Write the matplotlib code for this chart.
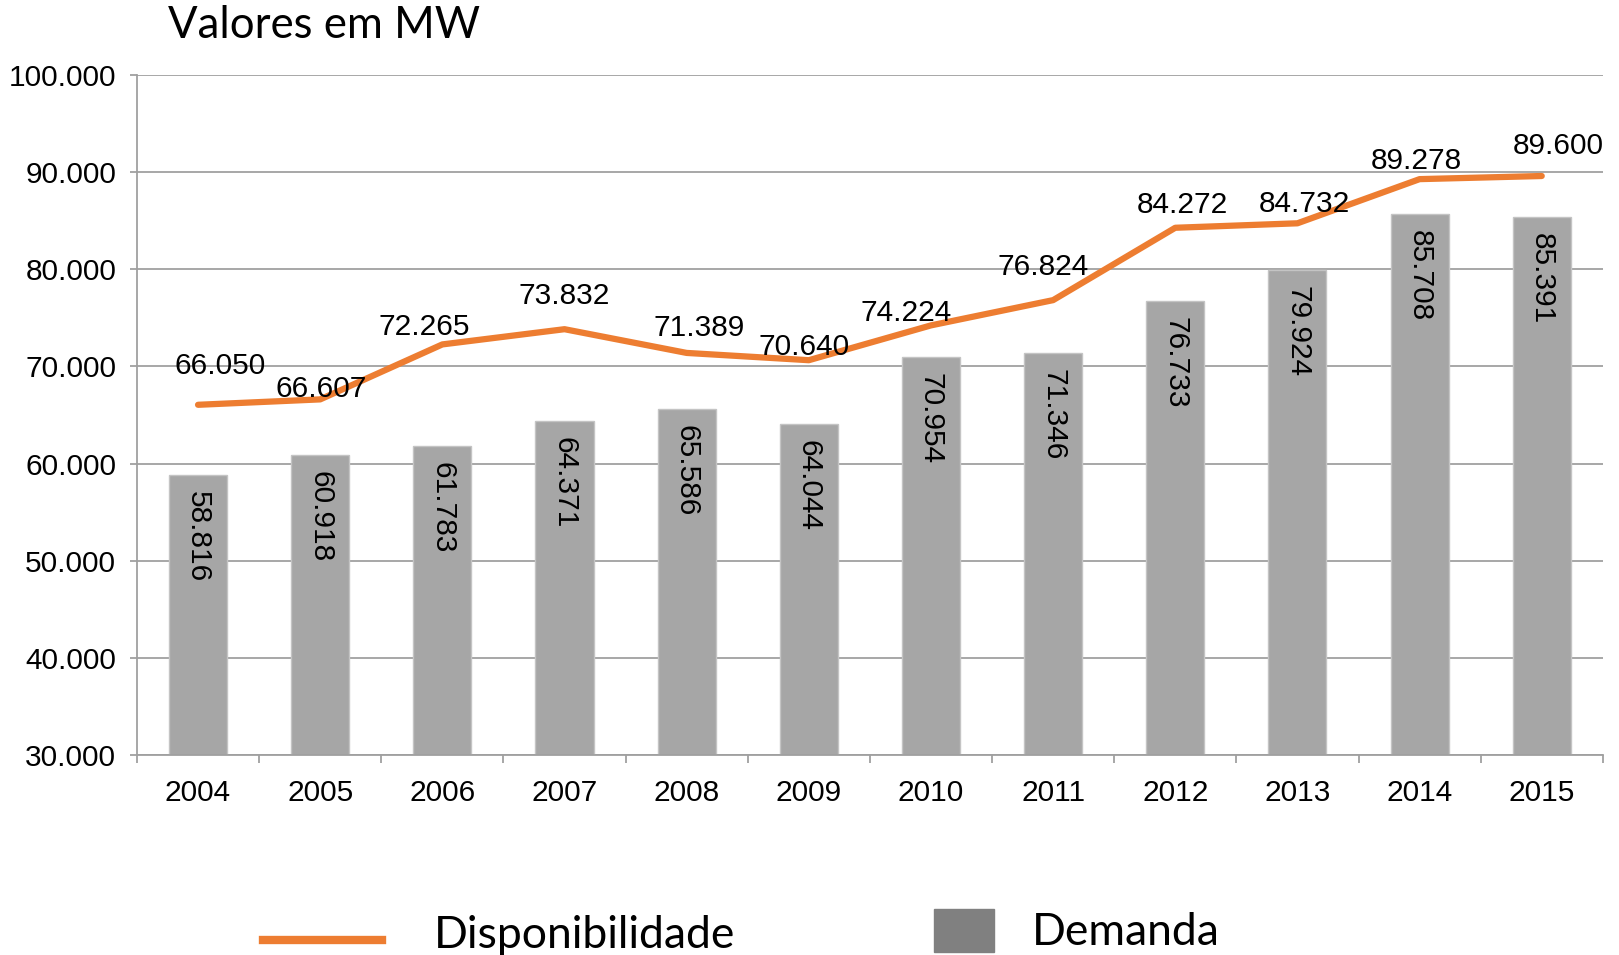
import numpy as np
import matplotlib
matplotlib.use('Agg')
import matplotlib.pyplot as plt
from matplotlib.lines import Line2D
from matplotlib.patches import Rectangle

years = ['2004', '2005', '2006', '2007', '2008', '2009', '2010', '2011', '2012', '2013', '2014', '2015']
disponibilidade = [66050, 66607, 72265, 73832, 71389, 70640, 74224, 76824, 84272, 84732, 89278, 89600]
demanda = [58816, 60918, 61783, 64371, 65586, 64044, 70954, 71346, 76733, 79924, 85708, 85391]

# hand-tuned label nudges (pixels) to mimic the original placement
line_lbl_dx = [22, 1, -18, 0, 12, -5, -25, -10, 7, 7, -3, 17]
line_lbl_dy = [39, 10, 17, 33, 25, 13, 12, 33, 23, 19, 18, 30]

def fmt(v):
    return '{:,}'.format(v).replace(',', '.')

plt.rcParams['font.family'] = ['Liberation Sans', 'DejaVu Sans']
fs = 21.5
big = ['Lato', 'DejaVu Sans']

fig = plt.figure(figsize=(16.19, 9.55), dpi=100)
ax = fig.add_axes([0.0846, 0.2094, 0.9054, 0.7121])

x = np.arange(len(years))
ax.bar(x, demanda, width=0.475, color='#a6a6a6', edgecolor='#c4c4c4', linewidth=1, zorder=2)
ax.plot(x, disponibilidade, color='#ed7d31', linewidth=4.5, solid_capstyle='round', zorder=3)

for i in range(len(years)):
    ax.annotate(fmt(demanda[i]), (x[i], demanda[i]), xytext=(0, -16), textcoords='offset pixels',
                rotation=270, ha='center', va='top', fontsize=fs, zorder=4)
    ax.annotate(fmt(disponibilidade[i]), (x[i], disponibilidade[i]),
                xytext=(line_lbl_dx[i], line_lbl_dy[i]), textcoords='offset pixels',
                ha='center', va='center', fontsize=fs, zorder=4)

ax.set_xlim(-0.5, len(years) - 0.5)
ax.set_ylim(30000, 100000)
ax.set_yticks(np.arange(30000, 100001, 10000))
ax.set_yticklabels([fmt(v) for v in range(30000, 100001, 10000)])
ax.set_xticks(x)
ax.set_xticklabels(years)
ax.set_xticks(np.arange(-0.5, len(years)), minor=True)

ax.grid(axis='y', color='#a0a0a0', linewidth=1.3, zorder=0)
for s in ['top', 'right']:
    ax.spines[s].set_visible(False)
for s in ['left', 'bottom']:
    ax.spines[s].set_color('#a0a0a0')
    ax.spines[s].set_linewidth(1.3)

ax.tick_params(axis='x', which='major', length=0, pad=17, labelsize=fs)
ax.tick_params(axis='x', which='minor', length=6, width=1.3, color='#a0a0a0')
ax.tick_params(axis='y', length=5, width=1.3, color='#a0a0a0', pad=10, labelsize=fs)

fig.text(0.1038, 0.973, 'Valores em MW', fontsize=31.5, family=big, va='center', ha='left')

# legend drawn by hand
fig.add_artist(Line2D([263 / 1619, 382 / 1619], [1 - 940 / 955, 1 - 940 / 955],
                      color='#ed7d31', linewidth=6, transform=fig.transFigure))
fig.text(434 / 1619, 1 - 935 / 955, 'Disponibilidade', fontsize=32, family=big,
         va='center', ha='left')
fig.add_artist(Rectangle((934 / 1619, 1 - 952 / 955), 60 / 1619, 43 / 955,
                         color='#808080', transform=fig.transFigure))
fig.text(1032 / 1619, 1 - 932 / 955, 'Demanda', fontsize=32, family=big,
         va='center', ha='left')

fig.savefig('out.png', dpi=100)
